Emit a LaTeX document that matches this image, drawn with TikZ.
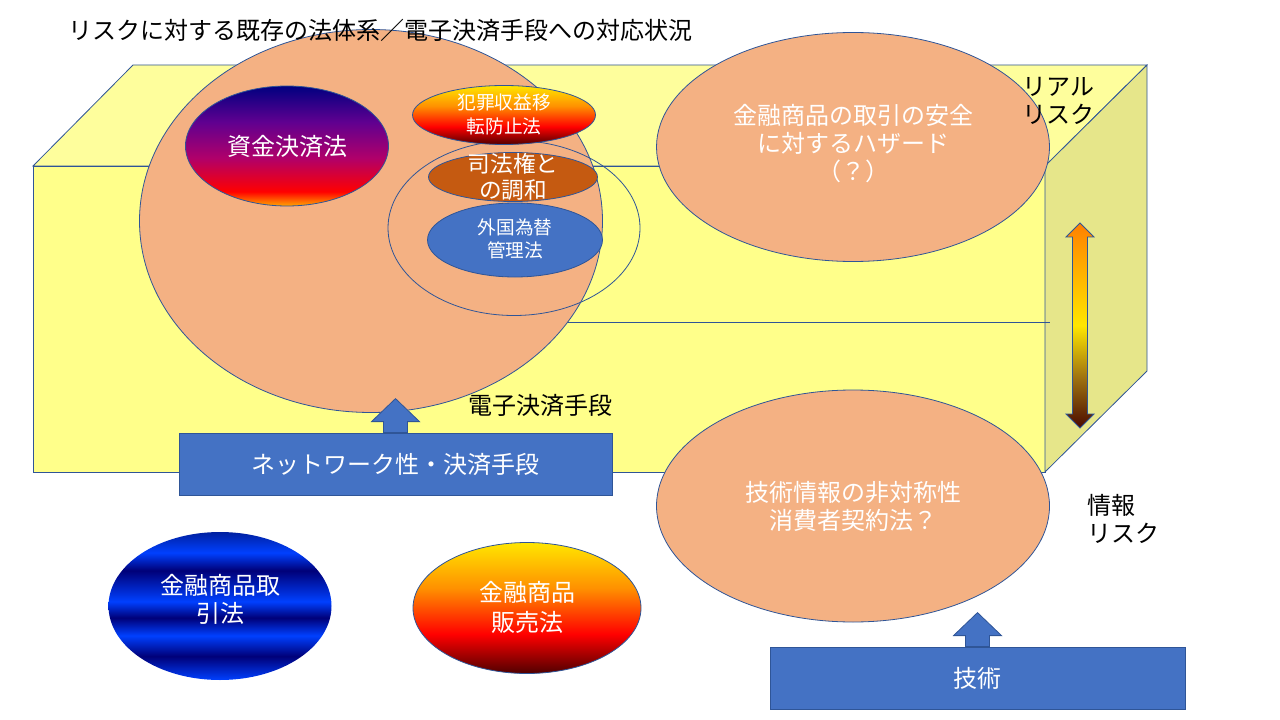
\documentclass[tikz,border=0pt]{standalone}
\usepackage{fontspec}
\setmainfont{Noto Sans CJK JP}
\usetikzlibrary{shapes.geometric}
\definecolor{edge}{HTML}{2F5597}
\definecolor{topface}{HTML}{FEFE9C}
\definecolor{frontface}{HTML}{FFFF8A}
\definecolor{sideface}{HTML}{E6E68A}
\definecolor{peach}{HTML}{F4B183}
\definecolor{boxblue}{HTML}{4472C4}
\definecolor{rust}{HTML}{C55A11}
\definecolor{firedark}{HTML}{500000}
\definecolor{firered}{HTML}{FF0000}
\definecolor{fireorange}{HTML}{FF9000}
\definecolor{fireyellow}{HTML}{FFE600}
\definecolor{zorange}{HTML}{FFA500}
\definecolor{zmag}{HTML}{B0006A}
\definecolor{zpurple}{HTML}{600090}
\definecolor{znavy}{HTML}{000080}
\definecolor{bbright}{HTML}{0040FF}
\definecolor{bdark}{HTML}{000078}
\definecolor{bmid}{HTML}{0020A0}
\definecolor{adark}{HTML}{4B0A00}
\definecolor{aolive}{HTML}{A07410}
\definecolor{aorange}{HTML}{FF8000}
\pgfdeclareverticalshading{fireshade}{100bp}{color(0bp)=(firedark); color(25bp)=(firedark); color(40bp)=(firered); color(57.5bp)=(fireorange); color(75bp)=(fireyellow); color(100bp)=(fireyellow)}
\pgfdeclareverticalshading{zshade}{100bp}{color(0bp)=(zorange); color(25bp)=(zorange); color(31bp)=(firered); color(45bp)=(zmag); color(60bp)=(zpurple); color(75bp)=(znavy); color(100bp)=(znavy)}
\pgfdeclareverticalshading{stripeshade}{100bp}{color(0bp)=(bbright); color(25bp)=(bbright); color(33bp)=(bdark); color(40bp)=(bbright); color(46bp)=(bdark); color(51.5bp)=(bbright); color(62bp)=(bdark); color(68bp)=(bbright); color(75bp)=(bmid); color(100bp)=(bmid)}
\pgfdeclareverticalshading{arrowshade}{100bp}{color(0bp)=(adark); color(25bp)=(adark); color(37.5bp)=(aolive); color(50bp)=(fireyellow); color(75bp)=(aorange); color(100bp)=(aorange)}
\newcommand\pxu[1]{#1*0.75pt}
\begin{document}
\begin{tikzpicture}[x=0.75pt,y=-0.75pt,
  ell/.style={ellipse, inner sep=0pt, draw=edge, line width=0.6pt},
  lbl/.style={text=white, align=center, inner sep=0pt, font=\fontsize{18}{21}\selectfont},
  smalllbl/.style={text=white, align=center, inner sep=0pt, font=\fontsize{14}{17.5}\selectfont},
  blk/.style={text=black, align=left, inner sep=0pt, font=\fontsize{18}{21}\selectfont},
  bluebox/.style={rectangle, fill=boxblue, draw=edge, line width=0.6pt, text=white, font=\fontsize{18}{21}\selectfont, inner sep=0pt},
  blockarrow/.style={fill=boxblue, draw=edge, line width=0.6pt}]
\useasboundingbox (0,0) rectangle (1280,720);
% cuboid
\path[draw=edge, line width=0.6pt, fill=topface] (33,166) -- (133,65) -- (1147,65) -- (1045,166) -- cycle;
\path[draw=edge, line width=0.6pt, fill=frontface] (33,166) rectangle (1045,472);
\path[draw=edge, line width=0.6pt, fill=sideface] (1045,166) -- (1147,65) -- (1147,371) -- (1045,472) -- cycle;
\draw[edge, line width=0.6pt] (560,322) -- (1050,322);
% big circle
\node[ell, fill=peach, minimum width={\pxu{463}}, minimum height={\pxu{383}}] (big) at (371,221) {};
\node[ell, shade, shading=zshade, minimum width={\pxu{203}}, minimum height={\pxu{120}}] (shikin) at (287,146) {};
\node[lbl] (shikint) at (shikin.center) {資金決済法};
\node[ell, minimum width={\pxu{252}}, minimum height={\pxu{175}}] (ring) at (514,228) {};
\node[ell, shade, shading=fireshade, minimum width={\pxu{183}}, minimum height={\pxu{59}}] (hanzai) at (504,115) {};
\node[smalllbl, font=\fontsize{14}{18}\selectfont] (hanzait) at (504,114) {犯罪収益移\\転防止法};
\node[ell, fill=rust, minimum width={\pxu{169}}, minimum height={\pxu{49}}] (shiho) at (513,177) {};
\node[lbl, font=\fontsize{17}{20}\selectfont] (shihot) at (513,177) {司法権と\\の調和};
\node[ell, fill=boxblue, minimum width={\pxu{175}}, minimum height={\pxu{74}}] (gaikoku) at (515,240) {};
\node[smalllbl] (gaikokut) at (515,239) {外国為替\\管理法};
% right ellipses
\node[ell, fill=peach, minimum width={\pxu{393}}, minimum height={\pxu{229}}] (hazard) at (853,147) {};
\node[lbl] (hazardt) at (853,144) {金融商品の取引の安全\\に対するハザード\\（？）};
\node[ell, fill=peach, minimum width={\pxu{393}}, minimum height={\pxu{232}}] (gijutsu) at (853,506) {};
\node[lbl] (gijutsut) at (853,506) {技術情報の非対称性\\消費者契約法？};
% labels
\node[blk, anchor=west] (title) at (68,30) {リスクに対する既存の法体系／電子決済手段への対応状況};
\node[blk, anchor=west] (real) at (1022,101) {リアル\\リスク};
\node[blk, anchor=west] (joho) at (1087,519) {情報\\リスク};
\node[blk, anchor=west] (denshi) at (468,405) {電子決済手段};
% double arrow
\path[shade, shading=arrowshade, draw=edge, line width=0.6pt] (1080,223) -- (1094,237) -- (1087.5,237) -- (1087.5,414) -- (1094,414) -- (1080,428) -- (1066,414) -- (1072.5,414) -- (1072.5,237) -- (1066,237) -- cycle;
% blue boxes with block arrows
\node[bluebox, minimum width={\pxu{433}}, minimum height={\pxu{62}}] (net) at (395.5,464) {ネットワーク性・決済手段};
\draw[blockarrow] (net.north) ++(-12,0) -- ++(0,-11) -- ++(-12,0) -- ++(24,-23) -- ++(24,23) -- ++(-12,0) -- ++(0,11) -- cycle;
\node[bluebox, minimum width={\pxu{415}}, minimum height={\pxu{62}}] (tech) at (977.5,678) {技術};
\draw[blockarrow] (tech.north) ++(-12,0) -- ++(0,-11) -- ++(-12,0) -- ++(24,-23) -- ++(24,23) -- ++(-12,0) -- ++(0,11) -- cycle;
% bottom ellipses
\node[ell, draw=none, shade, shading=stripeshade, minimum width={\pxu{223}}, minimum height={\pxu{148}}] (torihiki) at (220,606) {};
\node[lbl, font=\fontsize{18}{21}\selectfont] (torihikit) at (220,599) {金融商品取\\引法};
\node[ell, shade, shading=fireshade, minimum width={\pxu{228}}, minimum height={\pxu{131}}] (hanbai) at (527,608) {};
\node[lbl, font=\fontsize{18}{22.5}\selectfont] (hanbait) at (527,607) {金融商品\\販売法};
\end{tikzpicture}
\end{document}
